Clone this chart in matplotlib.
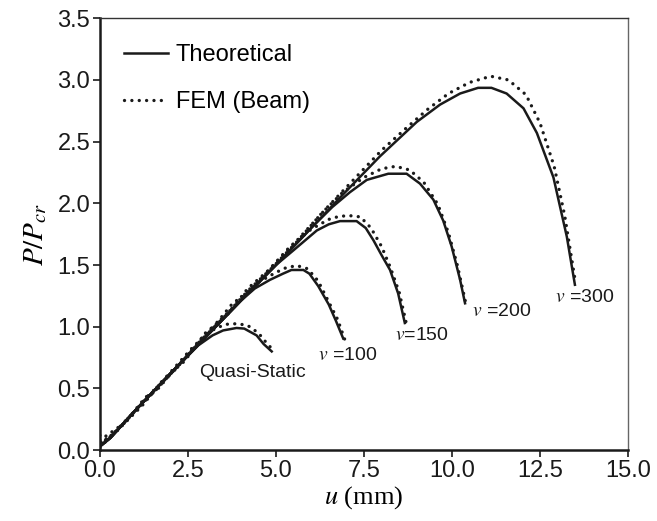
import matplotlib
matplotlib.use("Agg")
import matplotlib.pyplot as plt

plt.rcParams['font.family'] = ['Liberation Sans', 'DejaVu Sans']
plt.rcParams['mathtext.fontset'] = 'stix'

# ---------------- data ----------------
# Theoretical curves
qs_x = [0.0, 0.3, 1.0, 2.0, 2.8, 3.2, 3.5, 3.88, 4.1, 4.45, 4.65, 4.88]
qs_y = [0.03, 0.10, 0.32, 0.62, 0.85, 0.93, 0.97, 0.99, 0.985, 0.93, 0.86, 0.80]

v100_x = [0.0, 0.3, 1.0, 2.0, 3.0, 4.0, 4.4, 4.83, 5.2, 5.44, 5.78, 5.95, 6.2, 6.5, 6.7, 6.91]
v100_y = [0.03, 0.10, 0.32, 0.62, 0.915, 1.21, 1.31, 1.38, 1.43, 1.46, 1.46, 1.43, 1.33, 1.18, 1.05, 0.905]

v150_x = [0.0, 0.3, 1.0, 2.0, 3.0, 4.0, 5.0, 5.5, 6.16, 6.5, 6.82, 7.29, 7.55, 7.77, 8.0, 8.24, 8.47, 8.66]
v150_y = [0.03, 0.10, 0.32, 0.62, 0.915, 1.21, 1.50, 1.62, 1.78, 1.83, 1.856, 1.856, 1.80, 1.70, 1.58, 1.46, 1.27, 1.03]

v200_x = [0.0, 0.3, 1.0, 2.0, 3.0, 4.0, 5.0, 6.0, 6.6, 7.1, 7.58, 8.19, 8.71, 9.09, 9.47, 9.75, 9.99, 10.23, 10.37]
v200_y = [0.03, 0.10, 0.32, 0.62, 0.915, 1.21, 1.50, 1.80, 1.97, 2.09, 2.19, 2.24, 2.24, 2.16, 2.03, 1.86, 1.65, 1.38, 1.19]

v300_x = [0.0, 0.3, 1.0, 2.0, 3.0, 4.0, 5.0, 6.0, 7.0, 7.95, 9.0, 9.66, 10.23, 10.74, 11.12, 11.55, 12.03, 12.41, 12.88, 13.26, 13.49]
v300_y = [0.03, 0.10, 0.32, 0.62, 0.915, 1.21, 1.50, 1.80, 2.10, 2.38, 2.66, 2.80, 2.89, 2.936, 2.936, 2.89, 2.77, 2.57, 2.21, 1.73, 1.34]

# FEM (Beam) curves
fqs_x = [0.0, 0.05, 0.5, 1.0, 1.5, 2.0, 2.5, 2.9, 3.3, 3.6, 3.9, 4.2, 4.5, 4.7, 4.92]
fqs_y = [0.12, 0.05, 0.16, 0.31, 0.47, 0.63, 0.79, 0.91, 0.99, 1.02, 1.025, 1.01, 0.95, 0.88, 0.81]

f100_x = [0.0, 0.4, 0.9, 1.3, 1.6, 2.2, 2.6, 2.8, 3.4, 3.8, 4.0, 4.5, 5.0, 5.3, 5.6, 5.9, 6.2, 6.5, 6.75, 6.95]
f100_y = [0.06, 0.13, 0.29, 0.43, 0.48, 0.68, 0.82, 0.86, 1.06, 1.20, 1.23, 1.36, 1.44, 1.48, 1.495, 1.47, 1.37, 1.20, 1.06, 0.90]

f150_x = [0.0, 0.6, 1.2, 1.8, 2.4, 3.0, 3.6, 4.2, 4.8, 5.4, 6.0, 6.5, 6.8, 7.1, 7.4, 7.7, 8.0, 8.25, 8.5, 8.7]
f150_y = [0.04, 0.19, 0.36, 0.57, 0.72, 0.95, 1.09, 1.31, 1.46, 1.65, 1.79, 1.87, 1.895, 1.90, 1.89, 1.80, 1.65, 1.48, 1.28, 1.03]

f200_x = [0.0, 0.7, 1.4, 2.1, 2.8, 3.5, 4.2, 4.9, 5.6, 6.3, 6.9, 7.5, 8.0, 8.4, 8.8, 9.2, 9.6, 9.9, 10.15, 10.4]
f200_y = [0.08, 0.22, 0.45, 0.64, 0.87, 1.07, 1.29, 1.48, 1.69, 1.92, 2.09, 2.21, 2.28, 2.30, 2.27, 2.17, 1.99, 1.76, 1.50, 1.18]

f300_x = [0.0, 0.8, 1.6, 2.4, 3.2, 4.0, 4.8, 5.6, 6.4, 7.2, 8.0, 8.7, 9.3, 9.9, 10.5, 11.1, 11.6, 12.1, 12.5, 12.9, 13.2, 13.5]
f300_y = [0.02, 0.26, 0.49, 0.74, 0.99, 1.22, 1.46, 1.70, 1.95, 2.19, 2.43, 2.61, 2.76, 2.89, 2.98, 3.03, 3.00, 2.88, 2.65, 2.30, 1.90, 1.37]

theory = [(qs_x, qs_y), (v100_x, v100_y), (v150_x, v150_y), (v200_x, v200_y), (v300_x, v300_y)]
fem = [(fqs_x, fqs_y), (f100_x, f100_y), (f150_x, f150_y), (f200_x, f200_y), (f300_x, f300_y)]

xticks = [0.0, 2.5, 5.0, 7.5, 10.0, 12.5, 15.0]
yticks = [0.0, 0.5, 1.0, 1.5, 2.0, 2.5, 3.0, 3.5]

# ---------------- plot ----------------
fig = plt.figure(figsize=(6.57, 5.21), dpi=100)
ax = fig.add_axes([0.152, 0.136, 0.804, 0.829])

for i, (x, y) in enumerate(theory):
    ax.plot(x, y, color='#1a1a1a', lw=1.8, solid_joinstyle='miter',
            label='Theoretical' if i == 0 else None, zorder=3)
for i, (x, y) in enumerate(fem):
    ax.plot(x, y, color='#1a1a1a', lw=2.4, linestyle=(0, (0.01, 2.2)),
            dash_capstyle='round', label='FEM (Beam)' if i == 0 else None, zorder=2)

ax.set_xlim(0, 15)
ax.set_ylim(0, 3.5)
ax.set_xticks(xticks)
ax.set_yticks(yticks)
ax.set_xticklabels([f'{t:.1f}' for t in xticks])
ax.set_yticklabels([f'{t:.1f}' for t in yticks])
ax.tick_params(axis='both', direction='out', length=5, width=1.2, labelsize=17,
               colors='#1a1a1a', pad=2)

for s in ['left', 'bottom']:
    ax.spines[s].set_linewidth(1.8)
    ax.spines[s].set_color('#1a1a1a')
ax.spines['top'].set_linewidth(1.0)
ax.spines['top'].set_color('#333333')
ax.spines['right'].set_linewidth(1.0)
ax.spines['right'].set_color('#666666')

ax.set_xlabel(r'$u$ (mm)', fontsize=19, family=['Liberation Serif', 'DejaVu Serif'], labelpad=2)
ax.set_ylabel(r'$P/P_{cr}$', fontsize=21, labelpad=6)

leg = ax.legend(loc='upper left', bbox_to_anchor=(0.045, 0.94), frameon=False, fontsize=17,
                handlelength=1.9, handletextpad=0.3, labelspacing=1.05, borderpad=0,
                borderaxespad=0)

lbl_fs = 14
ax.text(4.33, 0.63, 'Quasi-Static', fontsize=lbl_fs, ha='center', va='center', color='#1a1a1a')
ax.text(6.19, 0.77, r'$\mathit{v}$ =100', fontsize=lbl_fs, ha='left', va='center', color='#1a1a1a')
ax.text(8.38, 0.93, r'$\mathit{v}$=150', fontsize=lbl_fs, ha='left', va='center', color='#1a1a1a')
ax.text(10.57, 1.12, r'$\mathit{v}$ =200', fontsize=lbl_fs, ha='left', va='center', color='#1a1a1a')
ax.text(12.93, 1.24, r'$\mathit{v}$ =300', fontsize=lbl_fs, ha='left', va='center', color='#1a1a1a')

fig.savefig('out.png', dpi=100)
